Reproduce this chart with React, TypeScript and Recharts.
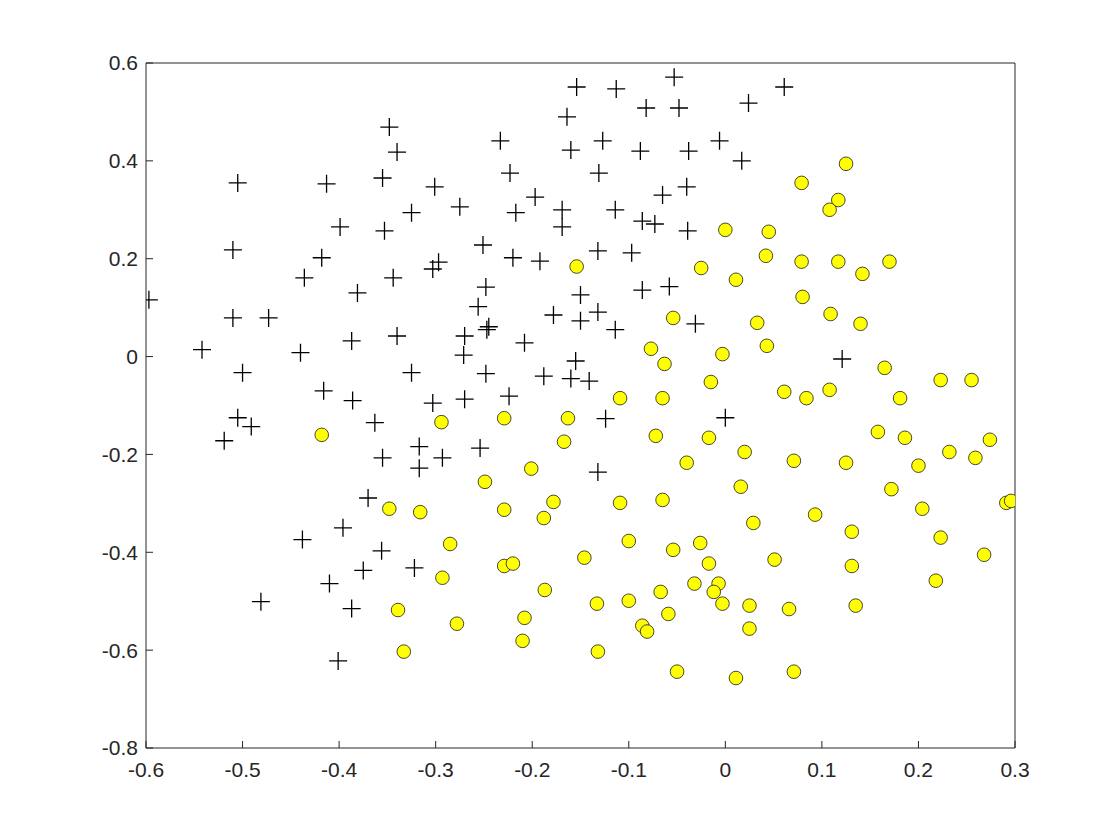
import { ScatterChart, Scatter, XAxis, YAxis } from 'recharts'

// [x, y] pairs
const crossPoints: [number, number][] = [
  [-0.597, 0.116], [-0.542, 0.014], [-0.505, 0.355], [-0.51, 0.218], [-0.51, 0.079],
  [-0.473, 0.079], [-0.5, -0.033], [-0.505, -0.125], [-0.491, -0.143], [-0.519, -0.172],
  [-0.481, -0.501], [-0.436, 0.161], [-0.44, 0.008], [-0.413, 0.353], [-0.418, 0.202],
  [-0.416, -0.07], [-0.387, 0.032], [-0.386, -0.09], [-0.399, 0.265], [-0.381, 0.13],
  [-0.348, 0.469], [-0.34, 0.418], [-0.355, 0.365], [-0.353, 0.257], [-0.344, 0.161],
  [-0.34, 0.042], [-0.325, -0.033], [-0.325, 0.294], [-0.301, 0.347], [-0.303, 0.179],
  [-0.297, 0.193], [-0.303, -0.095], [-0.363, -0.135], [-0.317, -0.184], [-0.355, -0.207],
  [-0.317, -0.228], [-0.293, -0.207], [-0.37, -0.289], [-0.396, -0.35], [-0.438, -0.374],
  [-0.356, -0.397], [-0.375, -0.437], [-0.322, -0.432], [-0.41, -0.464], [-0.387, -0.515],
  [-0.401, -0.622],
  [-0.053, 0.571], [-0.154, 0.551], [-0.113, 0.547], [-0.082, 0.508], [-0.048, 0.508],
  [-0.164, 0.49], [-0.233, 0.441], [-0.16, 0.422], [-0.127, 0.441], [-0.088, 0.42],
  [-0.038, 0.42], [-0.006, 0.441], [-0.223, 0.375], [-0.131, 0.375], [-0.04, 0.347],
  [-0.065, 0.33], [-0.197, 0.326], [-0.275, 0.306], [-0.217, 0.294], [-0.169, 0.3],
  [-0.169, 0.265], [-0.114, 0.3], [-0.086, 0.277], [-0.073, 0.271], [-0.039, 0.257],
  [-0.251, 0.228], [-0.132, 0.216], [-0.097, 0.212], [-0.22, 0.202], [-0.192, 0.195],
  [-0.248, 0.142], [-0.086, 0.136], [-0.058, 0.143], [-0.15, 0.126], [-0.256, 0.102],
  [-0.178, 0.085], [-0.15, 0.073], [-0.132, 0.091], [-0.031, 0.067], [-0.245, 0.061],
  [-0.247, 0.055], [-0.114, 0.055], [-0.27, 0.042], [-0.208, 0.028], [-0.271, 0.003],
  [-0.155, -0.009], [-0.248, -0.035], [-0.188, -0.04], [-0.16, -0.045], [-0.141, -0.05],
  [-0.27, -0.087], [-0.224, -0.081], [-0.124, -0.127], [0.0, -0.125], [-0.254, -0.187],
  [-0.132, -0.236], [0.061, 0.551], [0.024, 0.518], [0.017, 0.4], [0.121, -0.005],
]

const circlePoints: [number, number][] = [
  [-0.418, -0.16], [-0.294, -0.134], [-0.348, -0.311], [-0.316, -0.318], [-0.293, -0.452],
  [-0.339, -0.518], [-0.333, -0.603], [0.0, 0.259], [-0.154, 0.184], [-0.025, 0.181],
  [-0.054, 0.079], [-0.077, 0.016], [-0.063, -0.015], [-0.003, 0.005], [-0.015, -0.052],
  [-0.109, -0.085], [-0.065, -0.085],
  [-0.229, -0.126], [-0.163, -0.126], [-0.072, -0.162], [-0.017, -0.166], [-0.167, -0.174],
  [-0.04, -0.217], [-0.201, -0.229], [-0.249, -0.256], [-0.229, -0.313], [-0.178, -0.297],
  [-0.188, -0.33], [-0.109, -0.299], [-0.065, -0.293], [-0.285, -0.383], [-0.229, -0.428],
  [-0.22, -0.423], [-0.146, -0.411], [-0.1, -0.377], [-0.054, -0.395], [-0.026, -0.381],
  [-0.017, -0.423], [-0.187, -0.477], [-0.278, -0.546], [-0.208, -0.534], [-0.21, -0.581],
  [-0.133, -0.505], [-0.1, -0.499], [-0.067, -0.481], [-0.059, -0.526], [-0.086, -0.55],
  [-0.081, -0.562], [-0.032, -0.464], [-0.007, -0.464], [-0.012, -0.481], [-0.003, -0.505],
  [-0.132, -0.603], [-0.05, -0.644],
  [0.125, 0.394], [0.079, 0.355], [0.117, 0.32], [0.108, 0.3], [0.045, 0.255],
  [0.042, 0.206], [0.079, 0.194], [0.117, 0.194], [0.142, 0.169], [0.17, 0.194],
  [0.011, 0.157], [0.08, 0.122], [0.109, 0.087], [0.14, 0.067], [0.033, 0.069],
  [0.043, 0.022], [0.165, -0.023], [0.223, -0.048], [0.255, -0.048], [0.061, -0.072],
  [0.084, -0.085], [0.108, -0.068], [0.181, -0.085],
  [0.158, -0.154], [0.186, -0.166], [0.274, -0.17], [0.02, -0.195], [0.232, -0.195],
  [0.259, -0.207], [0.071, -0.213], [0.125, -0.217], [0.2, -0.223], [0.016, -0.266],
  [0.172, -0.271], [0.291, -0.299], [0.296, -0.295], [0.204, -0.311], [0.093, -0.323],
  [0.029, -0.34], [0.131, -0.358], [0.223, -0.37], [0.268, -0.405], [0.051, -0.415],
  [0.131, -0.428], [0.218, -0.458], [0.025, -0.509], [0.066, -0.516], [0.135, -0.509],
  [0.025, -0.556], [0.011, -0.657], [0.071, -0.644],
]

const xTicks = [-0.6, -0.5, -0.4, -0.3, -0.2, -0.1, 0, 0.1, 0.2, 0.3]
const yTicks = [-0.8, -0.6, -0.4, -0.2, 0, 0.2, 0.4, 0.6]
const xDomain: [number, number] = [-0.6, 0.3]
const yDomain: [number, number] = [-0.8, 0.6]

const AXIS_COLOR = '#262626'
const FONT = '"Liberation Sans", Arial, Helvetica, sans-serif'
const FONT_SIZE = 21

const toRows = (pts: [number, number][]) => pts.map(([x, y]) => ({ x, y }))

function CrossMarker(props: any) {
  const { cx, cy } = props
  if (cx == null || cy == null) return null
  const h = 9
  return (
    <path
      d={`M${cx - h},${cy}H${cx + h}M${cx},${cy - h}V${cy + h}`}
      stroke="#000"
      strokeWidth={1.3}
      fill="none"
    />
  )
}

function CircleMarker(props: any) {
  const { cx, cy } = props
  if (cx == null || cy == null) return null
  return <circle cx={cx} cy={cy} r={6.8} fill="#FFFF00" stroke="#1a1a1a" strokeWidth={0.8} />
}

const fmt = (v: number) => (v === 0 ? '0' : String(v))

// tick label drawn by hand so the font size sticks
function TickLabel(props: any) {
  const { x, y, payload, textAnchor, verticalAnchor } = props
  const dy = verticalAnchor === 'start' ? '0.71em' : '0.355em'
  return (
    <text
      x={x}
      y={y}
      dy={dy}
      textAnchor={textAnchor}
      fill={AXIS_COLOR}
      fontSize={FONT_SIZE}
      fontFamily={FONT}
    >
      {fmt(payload.value)}
    </text>
  )
}

export default function App() {
  const line = { stroke: AXIS_COLOR, strokeWidth: 1 }

  return (
    <div style={{ width: 1120, height: 840, background: '#fff' }}>
      <style>{'body{margin:0}'}</style>
      <ScatterChart
        width={1120}
        height={840}
        margin={{ top: 53, right: 95, bottom: 62, left: 86 }}
      >
        <XAxis
          type="number"
          dataKey="x"
          domain={xDomain}
          ticks={xTicks}
          interval={0}
          allowDataOverflow
          height={30}
          tickSize={-7}
          tickMargin={21}
          tick={<TickLabel />}
          axisLine={line}
          tickLine={line}
        />
        <XAxis
          xAxisId="top"
          orientation="top"
          type="number"
          domain={xDomain}
          ticks={xTicks}
          interval={0}
          allowDataOverflow
          height={10}
          tickSize={-7}
          tick={false}
          axisLine={line}
          tickLine={line}
        />
        <YAxis
          type="number"
          dataKey="y"
          domain={yDomain}
          ticks={yTicks}
          interval={0}
          allowDataOverflow
          width={60}
          tickSize={-7}
          tickMargin={15}
          tick={<TickLabel />}
          axisLine={line}
          tickLine={line}
        />
        <YAxis
          yAxisId="right"
          orientation="right"
          type="number"
          domain={yDomain}
          ticks={yTicks}
          interval={0}
          allowDataOverflow
          width={10}
          tickSize={-7}
          tick={false}
          axisLine={line}
          tickLine={line}
        />
        <Scatter data={toRows(crossPoints)} shape={CrossMarker} isAnimationActive={false} />
        <Scatter data={toRows(circlePoints)} shape={CircleMarker} isAnimationActive={false} />
      </ScatterChart>
    </div>
  )
}
